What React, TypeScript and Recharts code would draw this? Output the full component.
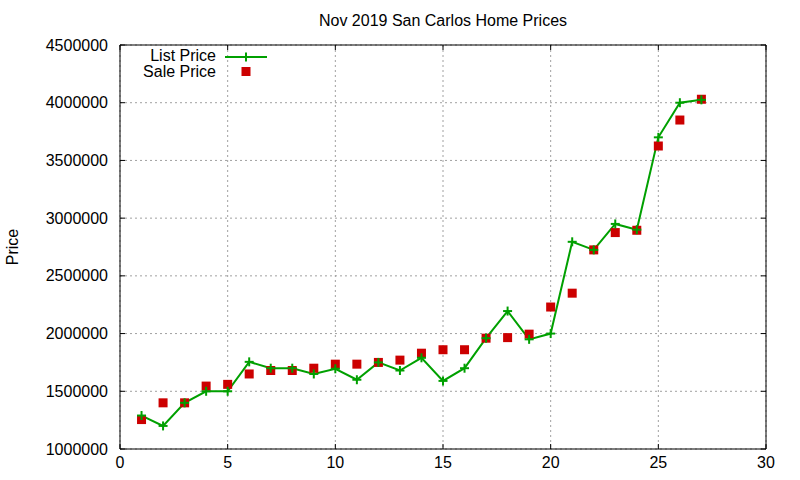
import {
  ComposedChart,
  Line,
  Scatter,
  XAxis,
  YAxis,
  CartesianGrid,
  ReferenceLine,
  Legend,
} from "recharts";

const FONT = "'Liberation Sans', Arial, sans-serif";

const listings = [1, 2, 3, 4, 5, 6, 7, 8, 9, 10, 11, 12, 13, 14, 15, 16, 17, 18, 19, 20, 21, 22, 23, 24, 25, 26, 27];
const listPrice = [
  1290000, 1200000, 1400000, 1500000, 1500000, 1755000, 1700000, 1700000, 1650000,
  1695000, 1600000, 1750000, 1680000, 1790000, 1590000, 1700000, 1960000, 2195000,
  1950000, 2000000, 2795000, 2725000, 2950000, 2900000, 3700000, 4000000, 4025000,
];
const salePrice = [
  1255000, 1400000, 1400000, 1545000, 1560000, 1650000, 1680000, 1680000, 1700000,
  1735000, 1735000, 1750000, 1770000, 1830000, 1860000, 1860000, 1960000, 1965000,
  1995000, 2230000, 2350000, 2725000, 2875000, 2895000, 3625000, 3850000, 4030000,
];
const xTicks = [0, 5, 10, 15, 20, 25, 30];
const yTicks = [1000000, 1500000, 2000000, 2500000, 3000000, 3500000, 4000000, 4500000];

const data = listings.map((n, i) => ({ n, list: listPrice[i], sale: salePrice[i] }));

const GREEN = "#00a000";
const RED = "#cc0000";
const TOP = 45;
const BOTTOM = 449;
const LEFT = 120;
const RIGHT = 766;

function Plus({ cx, cy }: any) {
  if (cx == null || cy == null) return null;
  return (
    <g stroke={GREEN} strokeWidth={2}>
      <line x1={cx - 4.5} x2={cx + 4.5} y1={cy} y2={cy} />
      <line x1={cx} x2={cx} y1={cy - 4.5} y2={cy + 4.5} />
    </g>
  );
}

function Square({ cx, cy }: any) {
  if (cx == null || cy == null) return null;
  return <rect x={cx - 4.5} y={cy - 4.5} width={9} height={9} fill={RED} />;
}

function XTick({ x, y, payload }: any) {
  return (
    <g>
      <line x1={x} x2={x} y1={BOTTOM} y2={BOTTOM - 5} stroke="#000" />
      <line x1={x} x2={x} y1={TOP} y2={TOP + 5} stroke="#000" />
      <text x={x} y={y + 19} textAnchor="middle" fontSize={16} fill="#000" fontFamily={FONT}>
        {payload.value}
      </text>
    </g>
  );
}

function YTick({ x, y, payload }: any) {
  return (
    <g>
      <line x1={LEFT} x2={LEFT + 5} y1={y} y2={y} stroke="#000" />
      <line x1={RIGHT} x2={RIGHT - 5} y1={y} y2={y} stroke="#000" />
      <text x={x - 12} y={y + 5.5} textAnchor="end" fontSize={16} fill="#000" fontFamily={FONT}>
        {payload.value}
      </text>
    </g>
  );
}

function LegendBox() {
  return (
    <svg width={280} height={85} style={{ display: "block" }}>
      <g fontFamily={FONT} fontSize={16} fill="#000">
        <text x={216} y={61} textAnchor="end">List Price</text>
        <text x={216} y={76.5} textAnchor="end">Sale Price</text>
      </g>
      <line x1={225} x2={267} y1={57} y2={57} stroke={GREEN} strokeWidth={2} />
      <Plus cx={246} cy={57} />
      <Square cx={246} cy={71.5} />
    </svg>
  );
}

export default function App() {
  return (
    <div style={{ position: "relative", width: 800, height: 480, fontFamily: FONT }}>
      <style>{"body{margin:0}"}</style>
      <div
        style={{
          position: "absolute",
          left: LEFT,
          width: RIGHT - LEFT,
          top: 13,
          textAlign: "center",
          fontSize: 16,
          lineHeight: "16px",
          color: "#000",
        }}
      >
        Nov 2019 San Carlos Home Prices
      </div>
      <ComposedChart
        width={800}
        height={480}
        data={data}
        margin={{ top: TOP, right: 800 - RIGHT, bottom: 0, left: 0 }}
      >
        <CartesianGrid stroke="#a0a0a0" strokeDasharray="2 3" />
        <XAxis
          dataKey="n"
          type="number"
          domain={[0, 30]}
          ticks={xTicks}
          tickLine={false}
          tickSize={0}
          tickMargin={0}
          height={480 - BOTTOM}
          axisLine={{ stroke: "#000" }}
          tick={<XTick />}
          interval={0}
        />
        <YAxis
          type="number"
          domain={[1000000, 4500000]}
          ticks={yTicks}
          tickLine={false}
          tickSize={0}
          tickMargin={0}
          width={LEFT}
          axisLine={{ stroke: "#000" }}
          tick={<YTick />}
          interval={0}
          label={{
            value: "Price",
            angle: -90,
            position: "insideLeft",
            offset: 12,
            style: { fontSize: 16, fill: "#000", fontFamily: FONT, textAnchor: "middle" },
          }}
        />
        <ReferenceLine y={4500000} stroke="#000" />
        <ReferenceLine x={30} stroke="#000" />
        <Legend
          layout="vertical"
          align="center"
          verticalAlign="middle"
          wrapperStyle={{ top: 0, left: 0, width: 280 }}
          content={() => <LegendBox />}
        />
        <Line
          name="List Price"
          dataKey="list"
          stroke={GREEN}
          strokeWidth={2}
          dot={<Plus />}
          activeDot={false}
          isAnimationActive={false}
        />
        <Scatter
          name="Sale Price"
          dataKey="sale"
          fill={RED}
          shape={<Square />}
          isAnimationActive={false}
        />
      </ComposedChart>
    </div>
  );
}
